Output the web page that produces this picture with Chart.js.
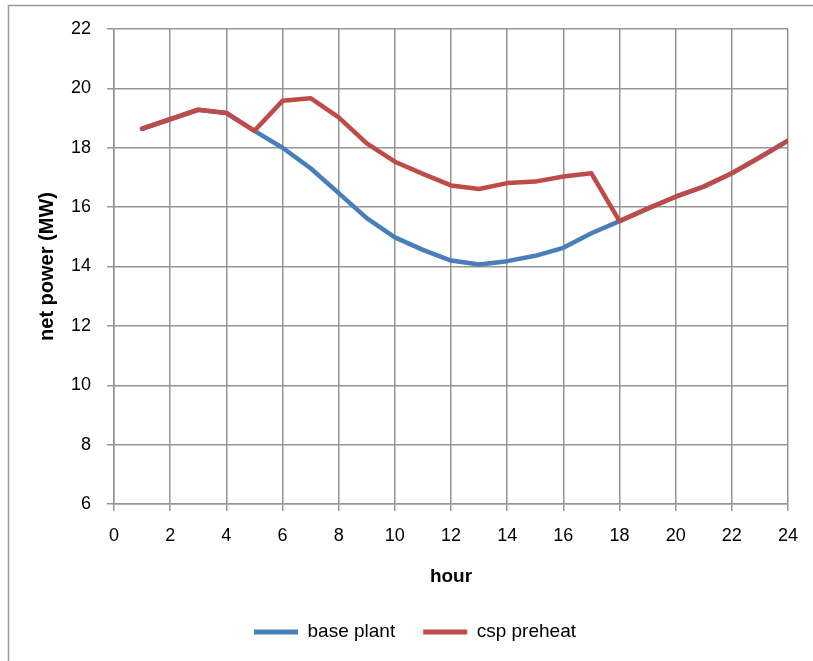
<!DOCTYPE html>
<html>
<head>
<meta charset="utf-8">
<script src="https://cdn.jsdelivr.net/npm/chart.js@4/dist/chart.umd.min.js"></script>
<style>
  html, body { margin: 0; padding: 0; background: #ffffff; }
  #wrap { position: relative; width: 813px; height: 661px; }
</style>
</head>
<body>
<div id="wrap"><canvas id="c" width="813" height="661"></canvas></div>
<script>
// Hour of day
const hours = [1, 2, 3, 4, 5, 6, 7, 8, 9, 10, 11, 12, 13, 14, 15, 16, 17, 18, 19, 20, 21, 22, 23, 24];

// Net power output, MW
const basePlant = [18.64, 18.96, 19.28, 19.17, 18.57, 18.00, 17.31, 16.47, 15.63, 14.98, 14.56, 14.20,
                   14.07, 14.18, 14.36, 14.63, 15.12, 15.53, 15.95, 16.35, 16.69, 17.14, 17.68, 18.24];
const cspPreheat = [18.64, 18.96, 19.28, 19.17, 18.57, 19.58, 19.67, 19.02, 18.15, 17.53, 17.12, 16.73,
                    16.61, 16.81, 16.86, 17.03, 17.14, 15.53, 15.95, 16.35, 16.69, 17.14, 17.68, 18.24];

const seriesNames = ['base plant', 'csp preheat'];
const xTitle = 'hour';
const yTitle = 'net power (MW)';

const toPoints = vals => hours.map((h, i) => ({ x: h, y: vals[i] }));

const GRID = '#959595';
const FONT = "'Liberation Sans', Arial, sans-serif";

// Outer chart frame
const framePlugin = {
  id: 'frame',
  beforeDraw(chart) {
    const ctx = chart.ctx;
    ctx.save();
    ctx.strokeStyle = '#9a9a9a';
    ctx.lineWidth = 1.5;
    ctx.strokeRect(8.5, 5.5, 900, 900);
    ctx.restore();
  }
};

new Chart(document.getElementById('c'), {
  type: 'line',
  data: {
    datasets: [
      {
        label: seriesNames[0],
        data: toPoints(basePlant),
        borderColor: '#4a7ebb',
        backgroundColor: '#4a7ebb',
        borderWidth: 4.5,
        pointRadius: 0,
        tension: 0,
        borderJoinStyle: 'round',
        borderCapStyle: 'round',
        order: 1
      },
      {
        label: seriesNames[1],
        data: toPoints(cspPreheat),
        borderColor: '#be4b48',
        backgroundColor: '#be4b48',
        borderWidth: 4.5,
        pointRadius: 0,
        tension: 0,
        borderJoinStyle: 'round',
        borderCapStyle: 'round',
        order: 0
      }
    ]
  },
  options: {
    responsive: false,
    animation: false,
    layout: { padding: { left: 42, right: 25, top: 29, bottom: 9.5 } },
    plugins: {
      tooltip: { enabled: false },
      legend: {
        position: 'bottom',
        labels: {
          font: { family: FONT, size: 19 },
          color: '#000000',
          boxWidth: 44,
          boxHeight: 0,
          padding: 28,
          generateLabels(chart) {
            return chart.data.datasets.map((ds, i) => ({
              text: ds.label,
              datasetIndex: i,
              strokeStyle: ds.borderColor,
              fillStyle: ds.borderColor,
              lineWidth: 5,
              hidden: false
            }));
          }
        }
      }
    },
    scales: {
      x: {
        type: 'linear',
        min: 0,
        max: 24,
        ticks: {
          stepSize: 2,
          padding: 14,
          color: '#000000',
          font: { family: FONT, size: 18 },
          maxRotation: 0
        },
        grid: { color: GRID, lineWidth: 1.5, tickLength: 7, drawTicks: true },
        border: { color: GRID, width: 1.5 },
        title: {
          display: true,
          text: xTitle,
          color: '#000000',
          font: { family: FONT, size: 19, weight: 'bold' },
          padding: { top: 0, bottom: 6 }
        },
        afterFit(scale) { scale.height = 90.5; }
      },
      y: {
        min: 6,
        max: 22,
        ticks: {
          stepSize: 2,
          padding: 16,
          color: '#000000',
          font: { family: FONT, size: 18 }
        },
        grid: { color: GRID, lineWidth: 1.5, tickLength: 7, drawTicks: true },
        border: { color: GRID, width: 1.5 },
        title: {
          display: true,
          text: yTitle,
          color: '#000000',
          font: { family: FONT, size: 20, weight: 'bold' },
          padding: { top: -7, bottom: 0 }
        },
        afterFit(scale) { scale.width = 72; }
      }
    }
  },
  plugins: [framePlugin]
});
</script>
</body>
</html>
